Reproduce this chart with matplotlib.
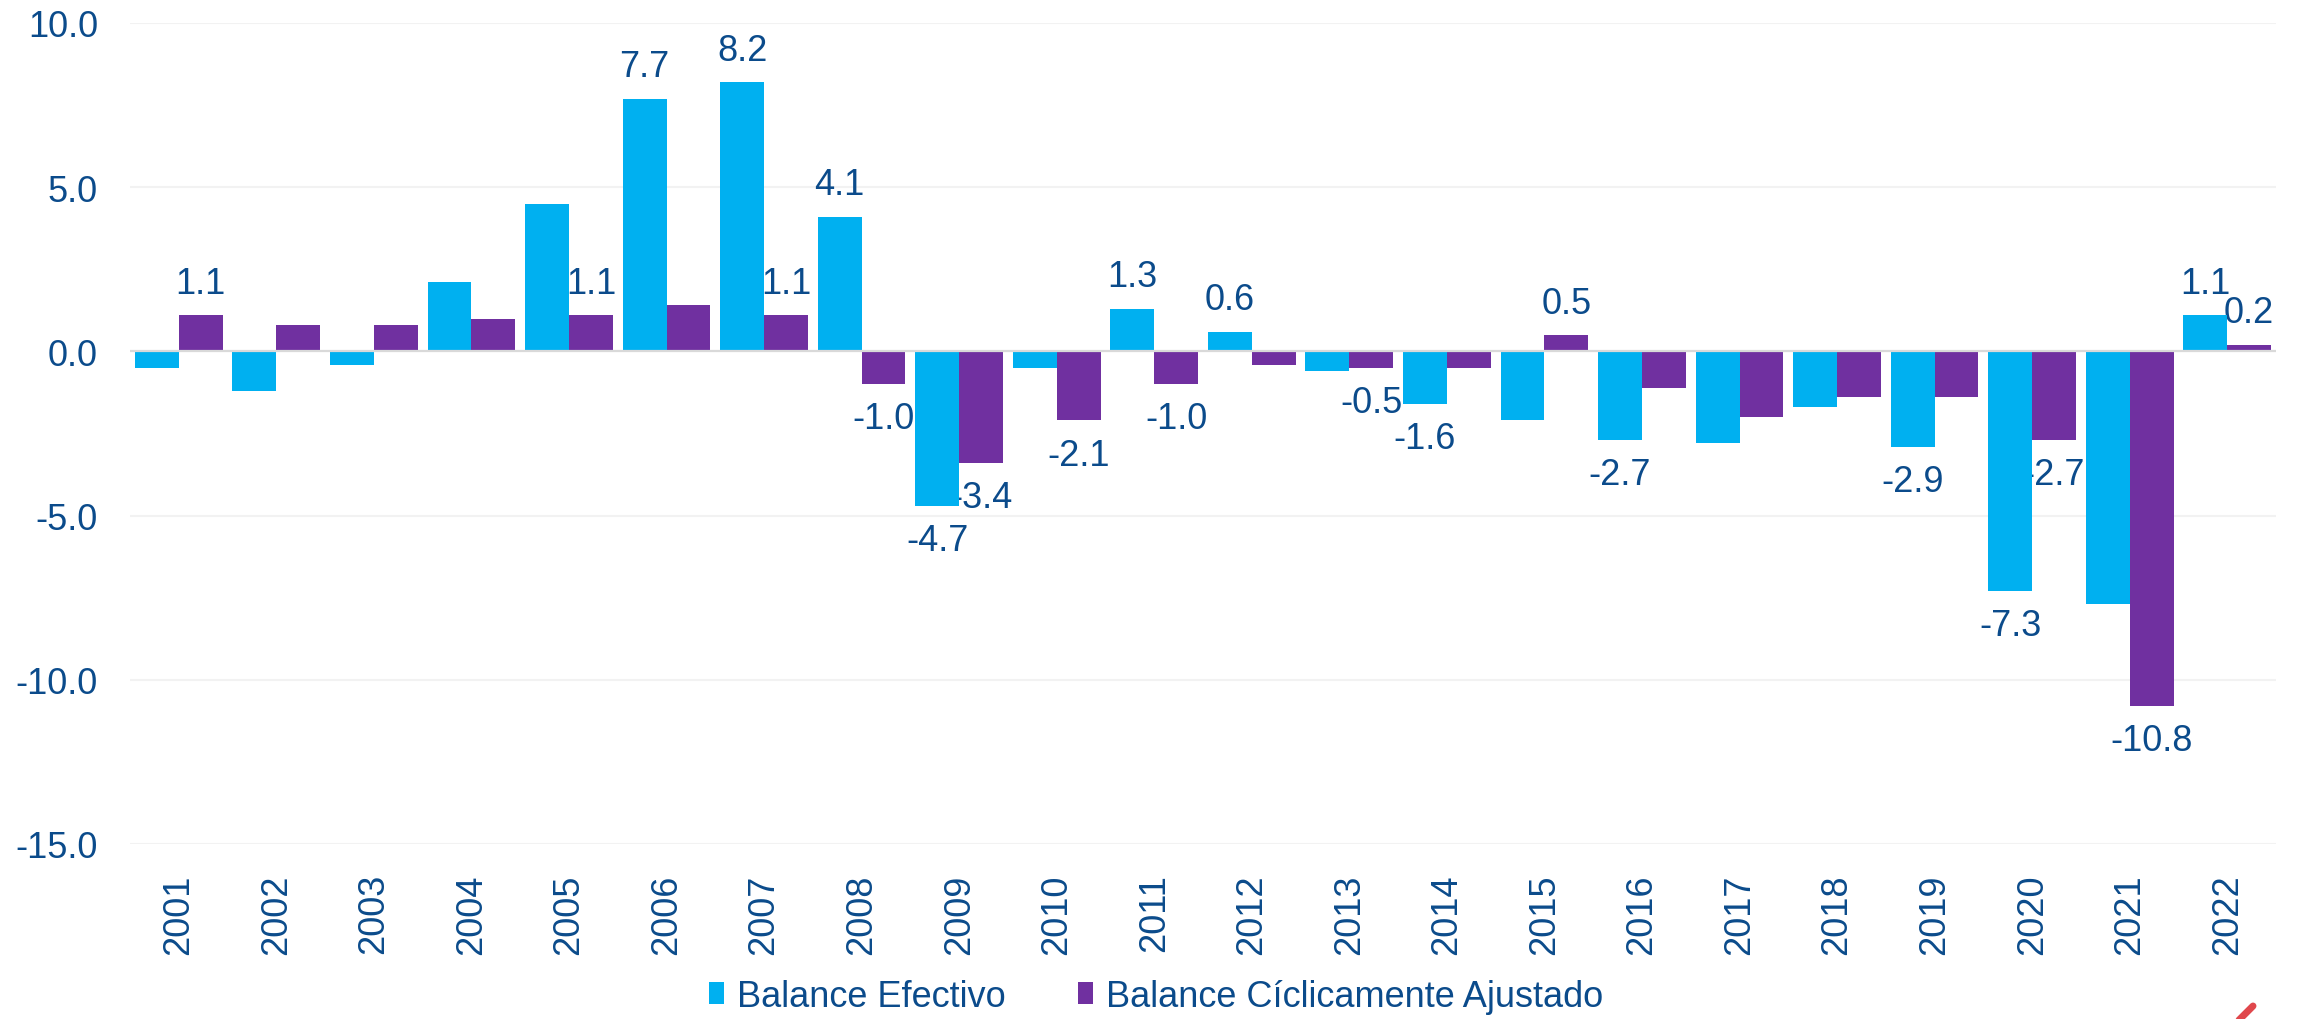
import matplotlib
matplotlib.use("Agg")
import matplotlib.pyplot as plt
import numpy as np
from matplotlib.lines import Line2D

plt.rcParams['font.family'] = ['Liberation Sans', 'DejaVu Sans']

years = [str(y) for y in range(2001, 2023)]
balance_efectivo = [-0.5, -1.2, -0.4, 2.1, 4.5, 7.7, 8.2, 4.1, -4.7, -0.5, 1.3,
                    0.6, -0.6, -1.6, -2.1, -2.7, -2.8, -1.7, -2.9, -7.3, -7.7, 1.1]
balance_ajustado = [1.1, 0.8, 0.8, 1.0, 1.1, 1.4, 1.1, -1.0, -3.4, -2.1, -1.0,
                    -0.4, -0.5, -0.5, 0.5, -1.1, -2.0, -1.4, -1.4, -2.7, -10.8, 0.2]
# which bars carry a data label
label_efectivo = ['2006', '2007', '2008', '2009', '2011', '2012', '2014', '2016',
                  '2019', '2020', '2022']
label_ajustado = ['2001', '2005', '2007', '2008', '2009', '2010', '2011', '2013',
                  '2015', '2020', '2021', '2022']
yticks = [10.0, 5.0, 0.0, -5.0, -10.0, -15.0]
series_names = ['Balance Efectivo', 'Balance Cíclicamente Ajustado']

C_BLUE = '#00B0F0'
C_PURPLE = '#7030A0'
C_TEXT = '#0B4B8B'
FS = 26

fig = plt.figure(figsize=(23.03, 10.20), dpi=100)
ax = fig.add_axes([130/2303, 1-845/1020, (2276-130)/2303, (845-24)/1020])

x = np.arange(len(years))
w = 0.45
b1 = ax.bar(x - w/2, balance_efectivo, w, color=C_BLUE, zorder=3, label=series_names[0])
b2 = ax.bar(x + w/2, balance_ajustado, w, color=C_PURPLE, zorder=3, label=series_names[1])

def add_labels(xpos, vals, show):
    for xi, v, yr in zip(xpos, vals, years):
        if yr not in show:
            continue
        off = 23 if v >= 0 else -25
        ax.annotate(f"{v:.1f}", (xi, v), xytext=(0, off), textcoords='offset points',
                    ha='center', va='center', fontsize=FS, color=C_TEXT, zorder=2)

add_labels(x - w/2, balance_efectivo, label_efectivo)
add_labels(x + w/2, balance_ajustado, label_ajustado)

ax.set_xlim(-0.5, len(years) - 0.5)
ax.set_ylim(-15, 10)
ax.set_yticks(yticks)
ax.set_yticklabels([f"{t:.1f}" for t in yticks])
ax.set_xticks(x)
ax.set_xticklabels(years, rotation=90)
ax.tick_params(axis='y', length=0, pad=23, labelsize=FS, labelcolor=C_TEXT)
ax.tick_params(axis='x', length=0, pad=21, labelsize=FS, labelcolor=C_TEXT)
for s in ax.spines.values():
    s.set_visible(False)
for t in yticks:
    if t != 0:
        ax.axhline(t, color='#f2f2f2', lw=1.5, zorder=0)
ax.axhline(0, color='#d9d9d9', lw=1.6, zorder=4)

leg = fig.legend(handles=[b1, b2], loc='center', bbox_to_anchor=(0.502, 0.0225),
                 ncol=2, frameon=False, fontsize=FS, handlelength=0.42,
                 handleheight=0.55, handletextpad=0.35, columnspacing=2.0,
                 borderpad=0, borderaxespad=0)
for t in leg.get_texts():
    t.set_color(C_TEXT)

# small red mark at the bottom right corner
fig.add_artist(Line2D([2238/2303, 2253/2303], [1-1022/1020, 1-1007/1020],
                      transform=fig.transFigure, color='#E0474C', lw=5,
                      solid_capstyle='round'))

fig.savefig('out.png', dpi=100)
